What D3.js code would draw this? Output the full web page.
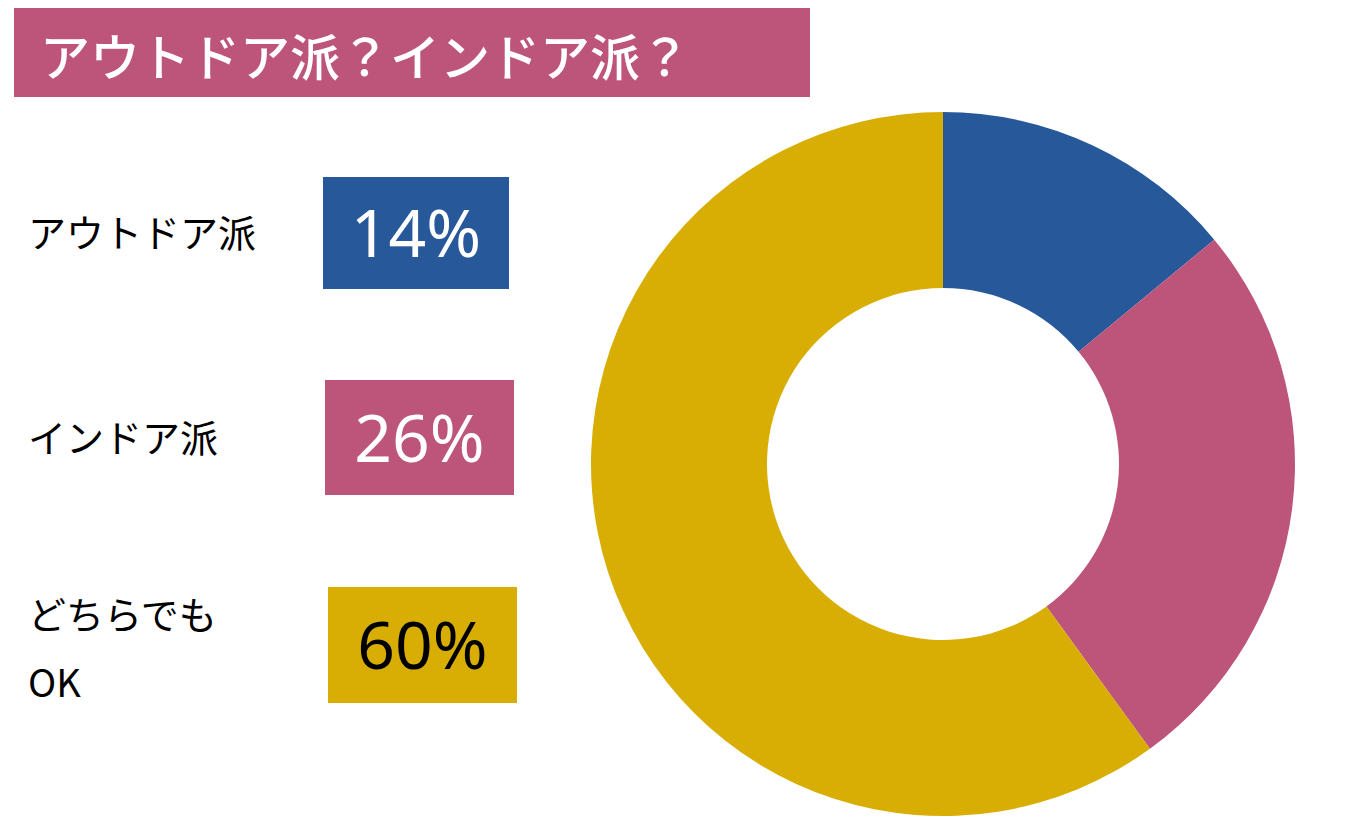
<!DOCTYPE html><html><head><meta charset="utf-8">
<script src="https://cdn.jsdelivr.net/npm/d3@7"></script>
<style>body{margin:0;background:#fff}</style></head><body>
<svg id="c" width="1354" height="820"></svg>
<script>
const categories=["アウトドア派","インドア派","どちらでも OK"];
const values=[14,26,60];
const colors=["#26589a","#bd5479","#d9ae04"];
const textColors=["#fff","#fff","#000"];
const title="アウトドア派？インドア派？";
const svg=d3.select("#c");
const F="'Noto Sans CJK JP','Noto Sans',sans-serif";
svg.append("rect").attr("x",14).attr("y",8).attr("width",796).attr("height",89).attr("fill","#bd5479");
svg.append("text").attr("x",40).attr("y",76).attr("font-family",F).attr("font-size",50).attr("font-weight",500).attr("fill","#fff").text(title);
const pie=d3.pie().sort(null).value(d=>d);
const arc=d3.arc().innerRadius(176).outerRadius(352);
svg.append("g").attr("transform","translate(943,464)").selectAll("path").data(pie(values)).join("path").attr("d",arc).attr("fill",(d,i)=>colors[i]);
const boxes=[[323,177,186,112],[325,380,189,115],[328,587,189,116]];
categories.forEach((c,i)=>{
  const [x,y,w,h]=boxes[i];
  svg.append("rect").attr("x",x).attr("y",y).attr("width",w).attr("height",h).attr("fill",colors[i]);
  svg.append("text").attr("x",x+w/2).attr("y",y+h/2+24).attr("text-anchor","middle").attr("font-family","'Noto Sans',sans-serif").attr("font-size",66).attr("fill",textColors[i]).text(values[i]+"%");
  const lines=c.split(" ");
  const ly = lines.length>1 ? y+h/2-16 : y+h/2+14;
  lines.forEach((l,j)=>svg.append("text").attr("x",28).attr("y",ly+j*68).attr("font-family",F).attr("font-size",38).attr("fill","#000").text(l));
});
</script></body></html>
